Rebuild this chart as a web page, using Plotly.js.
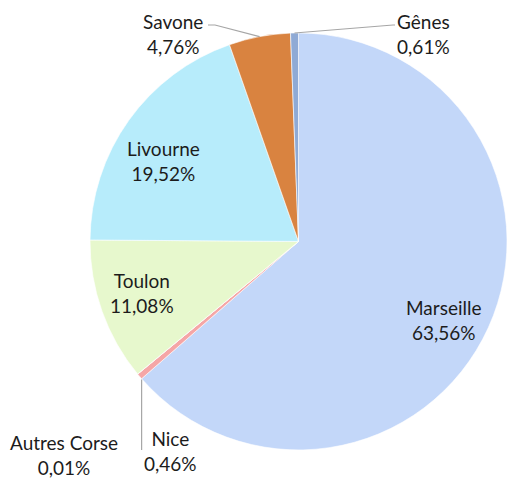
<!DOCTYPE html>
<html>
<head>
<meta charset="utf-8">
<script src="https://cdn.plot.ly/plotly-3.0.1.min.js"></script>
<style>html,body{margin:0;padding:0;background:#fff;}#chart{width:507px;height:480px;}</style>
</head>
<body>
<div id="chart"></div>
<script>
// Data (clockwise from 12 o'clock)
const labels = ["Marseille", "Nice", "Autres Corse", "Toulon", "Livourne", "Savone", "Gênes"];
const values = [63.56, 0.46, 0.01, 11.08, 19.52, 4.76, 0.61];
const valueText = ["63,56%", "0,46%", "0,01%", "11,08%", "19,52%", "4,76%", "0,61%"];
const colors = ["#c3d7f9", "#f5a6a6", "#c9a3d9", "#e7f8cd", "#b7ecfb", "#d98340", "#8faad5"];

// Layout geometry (pixels)
const W = 507, H = 480;
const domX = [90 / W, 1];
const domY = [0.047, 0.947];
const cx = (domX[0] + domX[1]) / 2 * W;
const cyFromBottom = (domY[0] + domY[1]) / 2 * H;
const cy = H - cyFromBottom;
const R = Math.min((domX[1] - domX[0]) * W, (domY[1] - domY[0]) * H) / 2;

const total = values.reduce((a, b) => a + b, 0);
function midTip(i) {
  let before = 0;
  for (let k = 0; k < i; k++) before += values[k];
  const frac = (before + values[i] / 2) / total;
  const th = frac * 2 * Math.PI;
  return [cx + R * Math.sin(th), cy - R * Math.cos(th)];
}
const px = x => x / W;
const py = y => 1 - y / H;

// Label text positions (pixel, centers)
const labelPos = {
  "Marseille": [443, 319.5],
  "Nice": [170.5, 451],
  "Autres Corse": [64, 455],
  "Toulon": [141.5, 293],
  "Livourne": [163, 160.5],
  "Savone": [173, 34],
  "Gênes": [423, 34]
};

const annotations = labels.map((l, i) => ({
  xref: "paper", yref: "paper",
  x: px(labelPos[l][0]), y: py(labelPos[l][1]),
  xanchor: "center", yanchor: "middle",
  text: l + "<br>" + valueText[i],
  showarrow: false,
  font: {family: "Lato, 'Open Sans', sans-serif", size: 19, color: "#1c1c1c"},
  align: "center"
}));

const lineStyle = {color: "#a6a6a6", width: 1.2};
const tG = midTip(labels.indexOf("Gênes"));
const tS = midTip(labels.indexOf("Savone"));
const tN = midTip(labels.indexOf("Nice"));
const shapes = [
  {type: "path", xref: "paper", yref: "paper", line: lineStyle,
   path: `M ${px(tG[0])} ${py(tG[1])} L ${px(393)} ${py(25)} L ${px(395)} ${py(25)}`},
  {type: "path", xref: "paper", yref: "paper", line: lineStyle,
   path: `M ${px(tS[0])} ${py(tS[1])} L ${px(215)} ${py(25)} L ${px(208)} ${py(25)}`},
  {type: "path", xref: "paper", yref: "paper", line: lineStyle,
   path: `M ${px(tN[0]+2)} ${py(tN[1]+3)} L ${px(tN[0]+2)} ${py(450)}`}
];

const trace = {
  type: "pie",
  labels: labels,
  values: values,
  sort: false,
  direction: "clockwise",
  rotation: 0,
  textinfo: "none",
  hoverinfo: "label+percent",
  marker: {colors: colors, line: {color: "#ffffff", width: 0.6}},
  domain: {x: domX, y: domY},
  showlegend: false
};

const layout = {
  width: W, height: H,
  margin: {l: 0, r: 0, t: 0, b: 0},
  paper_bgcolor: "#ffffff",
  showlegend: false,
  annotations: annotations,
  shapes: shapes
};

Plotly.newPlot("chart", [trace], layout, {staticPlot: true, displayModeBar: false});
</script>
</body>
</html>
